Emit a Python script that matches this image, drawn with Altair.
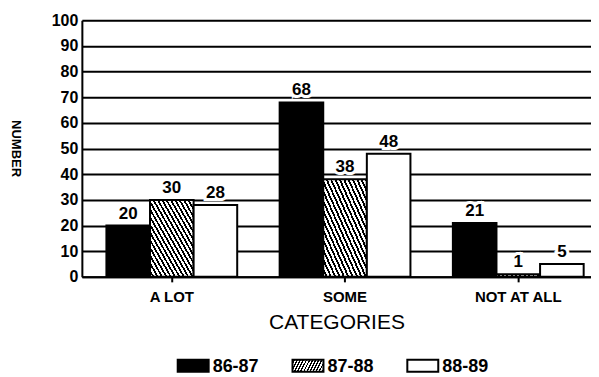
import altair as alt
import pandas as pd

categories = ["A LOT", "SOME", "NOT AT ALL"]
series = ["86-87", "87-88", "88-89"]
values_8687 = [20, 68, 21]
values_8788 = [30, 38, 1]
values_8889 = [28, 48, 5]
y_ticks = [0, 10, 20, 30, 40, 50, 60, 70, 80, 90, 100]

rows = []
for s, vals in zip(series, [values_8687, values_8788, values_8889]):
    for c, v in zip(categories, vals):
        rows.append({"category": c, "series": s, "value": v})
df = pd.DataFrame(rows)
legend_df = pd.DataFrame({"series": series})

FONT = "Liberation Sans"

# diagonal hatch made from a striped linear gradient
n_stripes = 20
stops = []
for i in range(n_stripes):
    a = i / n_stripes
    b = (i + 0.45) / n_stripes
    c = (i + 1) / n_stripes
    stops += [
        alt.GradientStop(color="black", offset=a),
        alt.GradientStop(color="black", offset=b),
        alt.GradientStop(color="white", offset=b),
        alt.GradientStop(color="white", offset=c),
    ]
hatch = alt.LinearGradient(gradient="linear", stops=stops, x1=1, y1=0, x2=0, y2=1)

x_enc = alt.X(
    "category:N",
    sort=categories,
    scale=alt.Scale(domain=categories, paddingInner=0.245, paddingOuter=0.092, align=0.77),
    axis=alt.Axis(
        title="CATEGORIES",
        labelAngle=0,
        labelFont=FONT,
        labelFontSize=15,
        labelFontWeight="bold",
        labelColor="black",
        labelPadding=8,
        ticks=True,
        tickSize=5,
        tickWidth=2,
        tickColor="black",
        domain=True,
        domainColor="black",
        domainWidth=2,
        grid=False,
        titleFont=FONT,
        titleFontSize=21,
        titleFontWeight="normal",
        titleColor="black",
        titleY=46,
        titleBaseline="middle",
    ),
)
xoff = alt.XOffset("series:N", sort=series,
                   scale=alt.Scale(domain=series, paddingInner=0, paddingOuter=0))
y_enc = alt.Y(
    "value:Q",
    scale=alt.Scale(domain=[0, 100], nice=False),
    axis=alt.Axis(
        values=y_ticks,
        title="NUMBER",
        titleAngle=90,
        titleX=-66,
        titleY=128,
        titleBaseline="middle",
        titleAlign="center",
        titleFont=FONT,
        titleFontSize=13,
        titleFontWeight="bold",
        titleColor="black",
        labelFont=FONT,
        labelFontSize=16,
        labelFontWeight="bold",
        labelColor="black",
        labelPadding=4,
        ticks=False,
        domain=True,
        domainColor="black",
        domainWidth=2,
        grid=True,
        gridColor="black",
        gridWidth=2,
        gridOpacity=1,
    ),
)

base = alt.Chart(df).encode(x=x_enc, xOffset=xoff, y=y_enc)

bars_black = base.transform_filter(alt.datum.series == series[0]).mark_bar(
    fill="black", stroke="black", strokeWidth=2)
bars_hatch = base.transform_filter(alt.datum.series == series[1]).mark_bar(
    fill=hatch, stroke="black", strokeWidth=2)
bars_white = base.transform_filter(alt.datum.series == series[2]).mark_bar(
    fill="white", stroke="black", strokeWidth=2)

label_halo = base.mark_text(
    baseline="bottom", dy=-3, font=FONT, fontSize=17, fontWeight="bold",
    fill="white", stroke="white", strokeWidth=6
).encode(text="value:Q")
labels = base.mark_text(
    baseline="bottom", dy=-3, font=FONT, fontSize=17, fontWeight="bold", fill="black"
).encode(text="value:Q")

# manual legend
sw_x = [96, 211, 326]
sw_fill = ["black", hatch, "white"]
legend_layers = []
for s, xx, f in zip(series, sw_x, sw_fill):
    ldata = alt.Chart(legend_df).transform_filter(alt.datum.series == s)
    legend_layers.append(
        ldata.mark_rect(fill=f, stroke="black", strokeWidth=2).encode(
            x=alt.value(xx), x2=alt.value(xx + 31), y=alt.value(340), y2=alt.value(352)
        )
    )
    legend_layers.append(
        ldata.mark_text(align="left", baseline="middle", font=FONT, fontSize=18,
                        fontWeight="bold", fill="black").encode(
            x=alt.value(xx + 35), y=alt.value(347), text="series:N"
        )
    )

chart = alt.layer(
    bars_black, bars_hatch, bars_white, label_halo, labels, *legend_layers
).properties(
    width=510,
    height=257,
    autosize=alt.AutoSizeParams(type="none"),
    padding={"left": 74, "top": 12, "right": 0, "bottom": 100},
).configure_view(stroke=None).configure(background="white")

chart.save("out.html", embed_options={"renderer": "svg", "actions": False})
